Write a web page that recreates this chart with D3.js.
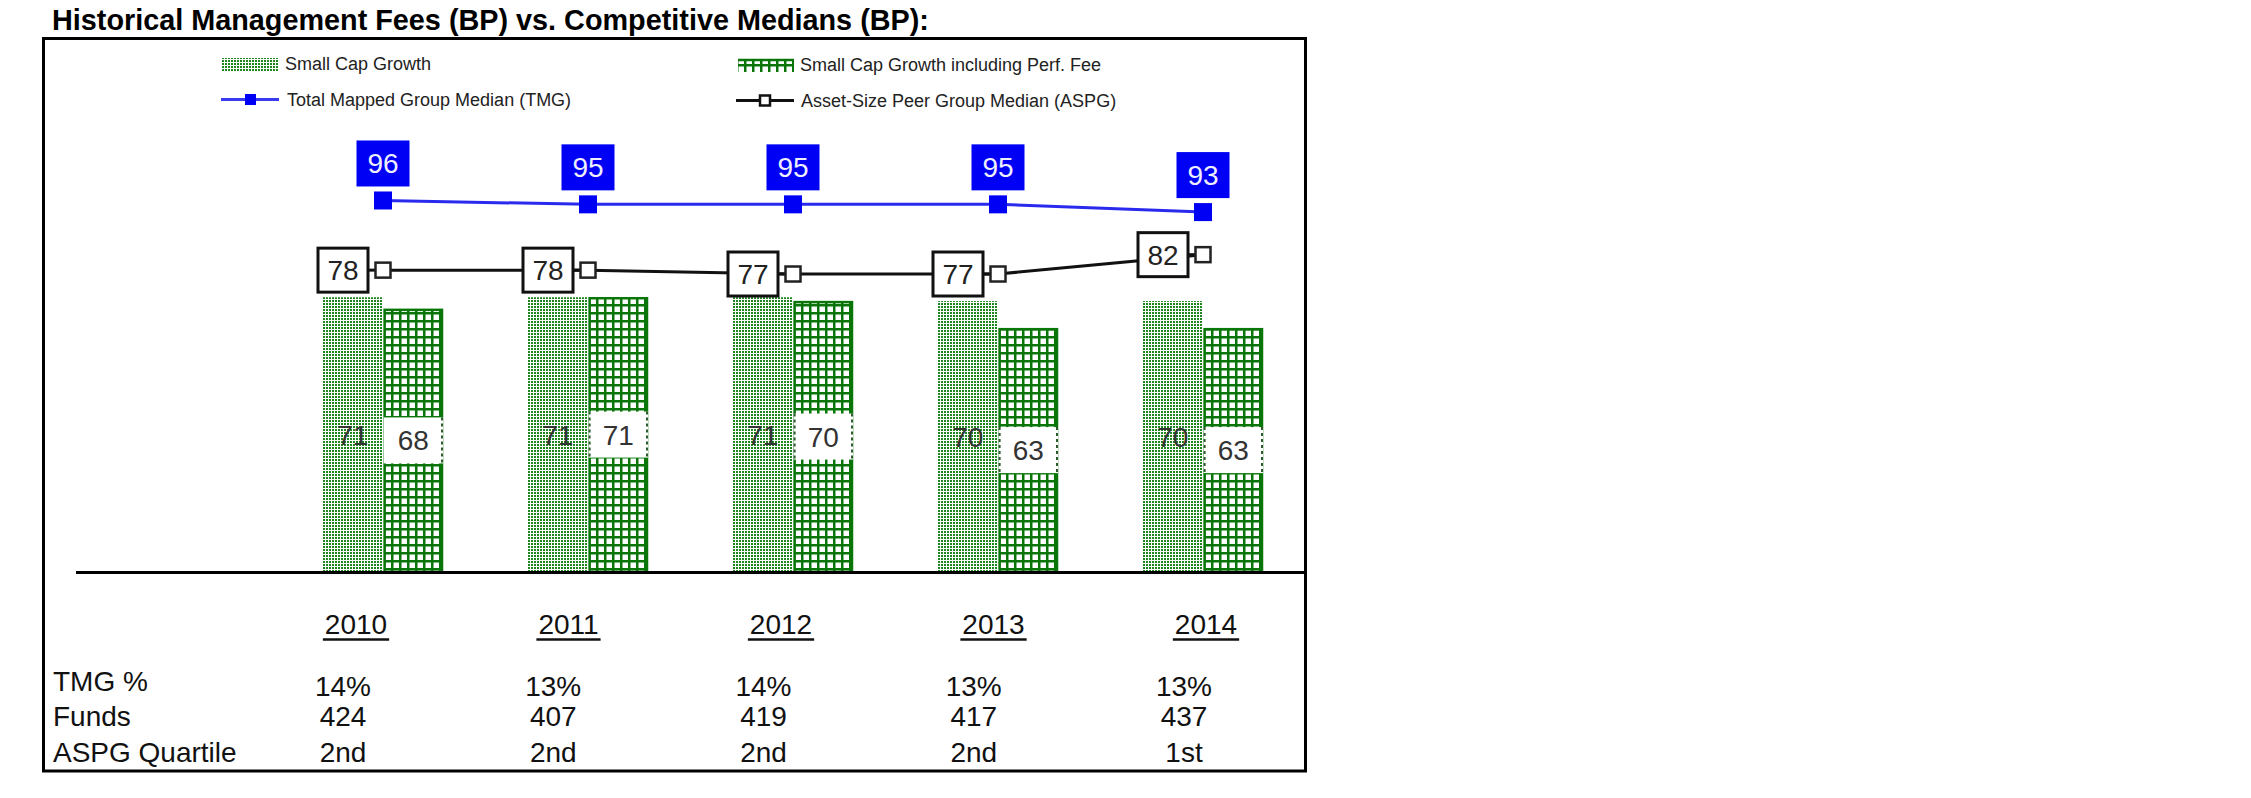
<!DOCTYPE html>
<html>
<head>
<meta charset="utf-8">
<script src="https://cdn.jsdelivr.net/npm/d3@7"></script>
<style>
  html, body { margin: 0; padding: 0; background: #fff; }
  svg { display: block; font-family: Arial, "Liberation Sans", sans-serif; }
</style>
</head>
<body>
<svg id="chart" width="2251" height="798"></svg>
<script>
// ---- data ----
const years = ['2010', '2011', '2012', '2013', '2014'];
const smallCapGrowth = [71, 71, 71, 70, 70];
const smallCapGrowthPerf = [68, 71, 70, 63, 63];
const tmgMedian = [96, 95, 95, 95, 93];
const aspgMedian = [78, 78, 77, 77, 82];
const tmgPct = ['14%', '13%', '14%', '13%', '13%'];
const funds = ['424', '407', '419', '417', '437'];
const aspgQuartile = ['2nd', '2nd', '2nd', '2nd', '1st'];
const rowLabels = ['TMG %', 'Funds', 'ASPG Quartile'];
const titleText = 'Historical Management Fees (BP) vs. Competitive Medians (BP):';
const legendLabels = ['Small Cap Growth', 'Small Cap Growth including Perf. Fee',
                      'Total Mapped Group Median (TMG)', 'Asset-Size Peer Group Median (ASPG)'];

// ---- setup ----
const svg = d3.select('#chart');
const GREEN = '#0a760a';
const DOTGREEN = '#1f861f';
const BLUE = '#0000f5';

const defs = svg.append('defs');
const dots = defs.append('pattern').attr('id', 'dots').attr('patternUnits', 'userSpaceOnUse')
  .attr('width', 3).attr('height', 3);
dots.append('rect').attr('width', 3).attr('height', 3).attr('fill', '#fff');
dots.append('rect').attr('width', 2).attr('height', 2).attr('fill', DOTGREEN);

const grid = defs.append('pattern').attr('id', 'grid').attr('patternUnits', 'userSpaceOnUse')
  .attr('width', 8).attr('height', 8);
grid.append('rect').attr('width', 8).attr('height', 8).attr('fill', '#fff');
grid.append('rect').attr('width', 8).attr('height', 2.5).attr('fill', GREEN);
grid.append('rect').attr('width', 2.5).attr('height', 8).attr('fill', GREEN);

// scales
const x = d3.scalePoint().domain(years).range([383, 1203]);
const sub = d3.scaleBand().domain(['scg', 'perf']).range([-60, 60]).paddingInner(0.02);
const y = d3.scaleLinear().domain([0, 100]).range([572, 185]);
const yearX = d3.scalePoint().domain(years).range([356, 1206]);
const valX = d3.scalePoint().domain(years).range([343, 1184]);

// title
svg.append('text').attr('x', 52).attr('y', 30)
  .attr('font-size', 28.8).attr('font-weight', 'bold').attr('fill', '#000')
  .text(titleText);

// frame
svg.append('rect').attr('x', 43.5).attr('y', 38.5).attr('width', 1262).attr('height', 732.5)
  .attr('fill', 'none').attr('stroke', '#000').attr('stroke-width', 3);

// ---- legend ----
const lg = svg.append('g').attr('font-size', 18).attr('fill', '#222');
lg.append('rect').attr('x', 222).attr('y', 58).attr('width', 56).attr('height', 13).attr('fill', 'url(#dots)');
lg.append('text').attr('x', 285).attr('y', 70).text(legendLabels[0]);
lg.append('rect').attr('x', 738).attr('y', 59).attr('width', 56).attr('height', 13).attr('fill', 'url(#grid)');
lg.append('line').attr('x1', 738).attr('x2', 794).attr('y1', 60).attr('y2', 60).attr('stroke', GREEN).attr('stroke-width', 2.5);
lg.append('text').attr('x', 800).attr('y', 71).text(legendLabels[1]);
lg.append('line').attr('x1', 221).attr('x2', 279).attr('y1', 99.5).attr('y2', 99.5).attr('stroke', '#3a3aee').attr('stroke-width', 3);
lg.append('rect').attr('x', 245).attr('y', 94).attr('width', 11).attr('height', 11).attr('fill', BLUE);
lg.append('text').attr('x', 287).attr('y', 106).text(legendLabels[2]);
lg.append('line').attr('x1', 736).attr('x2', 794).attr('y1', 100.5).attr('y2', 100.5).attr('stroke', '#111').attr('stroke-width', 3);
lg.append('rect').attr('x', 760).attr('y', 95.5).attr('width', 10).attr('height', 10)
  .attr('fill', '#fff').attr('stroke', '#111').attr('stroke-width', 2.5);
lg.append('text').attr('x', 801).attr('y', 107).text(legendLabels[3]);

// ---- bars ----
const barData = years.map((yr, i) => ({ yr, scg: smallCapGrowth[i], perf: smallCapGrowthPerf[i] }));
const groups = svg.append('g').selectAll('g').data(barData).join('g')
  .attr('transform', d => `translate(${x(d.yr)},0)`);

groups.append('rect')
  .attr('x', sub('scg')).attr('width', sub.bandwidth())
  .attr('y', d => y(d.scg)).attr('height', d => y(0) - y(d.scg))
  .attr('fill', 'url(#dots)');

groups.append('rect')
  .attr('x', sub('perf') + 1).attr('width', sub.bandwidth() - 2)
  .attr('y', d => y(d.perf) + 1).attr('height', d => y(0) - y(d.perf) - 1)
  .attr('fill', 'url(#grid)').attr('stroke', GREEN).attr('stroke-width', 2.5);

// bar labels
groups.append('text')
  .attr('x', sub('scg') + sub.bandwidth() / 2)
  .attr('y', d => (y(d.scg) + y(0)) / 2 + 10)
  .attr('text-anchor', 'middle').attr('font-size', 28).attr('fill', '#333')
  .text(d => d.scg);

const perfLab = groups.append('g')
  .attr('transform', d => `translate(0,${(y(d.perf) + y(0)) / 2})`);
perfLab.append('rect')
  .attr('x', sub('perf')).attr('width', sub.bandwidth())
  .attr('y', -23).attr('height', 46).attr('fill', '#fff');
perfLab.append('line')
  .attr('x1', sub('perf') + sub.bandwidth() - 1).attr('x2', sub('perf') + sub.bandwidth() - 1)
  .attr('y1', -23).attr('y2', 23)
  .attr('stroke', '#2d5a2d').attr('stroke-width', 2).attr('stroke-dasharray', '3,3');
perfLab.append('line')
  .attr('x1', sub('perf') + 1).attr('x2', sub('perf') + 1)
  .attr('y1', -23).attr('y2', 23)
  .attr('stroke', '#2d5a2d').attr('stroke-width', 2).attr('stroke-dasharray', '3,3')
  .attr('opacity', (d, i) => i === 0 ? 0 : 1);
perfLab.append('text')
  .attr('x', sub('perf') + sub.bandwidth() / 2).attr('y', 10)
  .attr('text-anchor', 'middle').attr('font-size', 28).attr('fill', '#333')
  .text(d => d.perf);

// baseline
svg.append('line').attr('x1', 76).attr('x2', 1305).attr('y1', y(0) + 0.5).attr('y2', y(0) + 0.5)
  .attr('stroke', '#000').attr('stroke-width', 3);

// ---- lines ----
const tmgPts = years.map((yr, i) => ({ yr, v: tmgMedian[i] }));
const aspgPts = years.map((yr, i) => ({ yr, v: aspgMedian[i] }));
const line = d3.line().x(d => x(d.yr)).y(d => y(d.v));

svg.append('path').datum(tmgPts).attr('d', line)
  .attr('fill', 'none').attr('stroke', '#2a2aee').attr('stroke-width', 3);
svg.append('path').datum(aspgPts).attr('d', line)
  .attr('fill', 'none').attr('stroke', '#111').attr('stroke-width', 3);

// ASPG leader segments from label box to marker
svg.append('g').selectAll('line').data(aspgPts).join('line')
  .attr('x1', d => x(d.yr) - 16).attr('x2', d => x(d.yr))
  .attr('y1', d => y(d.v)).attr('y2', d => y(d.v))
  .attr('stroke', '#111').attr('stroke-width', 3);

// TMG markers
svg.append('g').selectAll('rect').data(tmgPts).join('rect')
  .attr('x', d => x(d.yr) - 9).attr('y', d => y(d.v) - 9)
  .attr('width', 18).attr('height', 18).attr('fill', BLUE);

// ASPG markers
svg.append('g').selectAll('rect').data(aspgPts).join('rect')
  .attr('x', d => x(d.yr) - 7.5).attr('y', d => y(d.v) - 7.5)
  .attr('width', 15).attr('height', 15)
  .attr('fill', '#fff').attr('stroke', '#222').attr('stroke-width', 2.5);

// TMG label boxes
const tmgLab = svg.append('g').selectAll('g').data(tmgPts).join('g')
  .attr('transform', d => `translate(${x(d.yr)},${y(d.v) - 37})`);
tmgLab.append('rect').attr('x', -26.5).attr('y', -23).attr('width', 53).attr('height', 46).attr('fill', BLUE);
tmgLab.append('text').attr('y', 10).attr('text-anchor', 'middle')
  .attr('font-size', 28).attr('fill', '#eef').text(d => d.v);

// ASPG label boxes
const aspgLab = svg.append('g').selectAll('g').data(aspgPts).join('g')
  .attr('transform', d => `translate(${x(d.yr) - 40},${y(d.v)})`);
aspgLab.append('rect').attr('x', -25).attr('y', -22).attr('width', 50).attr('height', 44)
  .attr('fill', '#fff').attr('stroke', '#111').attr('stroke-width', 3);
aspgLab.append('text').attr('y', 10).attr('text-anchor', 'middle')
  .attr('font-size', 28).attr('fill', '#222').text(d => d.v);

// ---- table ----
const yearLab = svg.append('g').selectAll('g').data(years).join('g');
yearLab.append('text')
  .attr('x', d => yearX(d)).attr('y', 634)
  .attr('text-anchor', 'middle').attr('font-size', 28).attr('fill', '#111')
  .text(d => d)
  .each(function (d) {
    const w = this.getComputedTextLength();
    d3.select(this.parentNode).append('line')
      .attr('x1', yearX(d) - w / 2 - 2).attr('x2', yearX(d) + w / 2 + 2)
      .attr('y1', 639.5).attr('y2', 639.5)
      .attr('stroke', '#111').attr('stroke-width', 2.5);
  });

const rowBase = [691, 726, 762];
svg.append('g').selectAll('text').data(rowLabels).join('text')
  .attr('x', 53).attr('y', (d, i) => rowBase[i])
  .attr('font-size', 28).attr('fill', '#111').text(d => d);

const rows = [tmgPct, funds, aspgQuartile];
const valBase = [696, 726, 762];
rows.forEach((arr, r) => {
  svg.append('g').selectAll('text').data(arr).join('text')
    .attr('x', (d, i) => valX(years[i])).attr('y', valBase[r])
    .attr('text-anchor', 'middle').attr('font-size', 28).attr('fill', '#111')
    .text(d => d);
});
</script>
</body>
</html>
